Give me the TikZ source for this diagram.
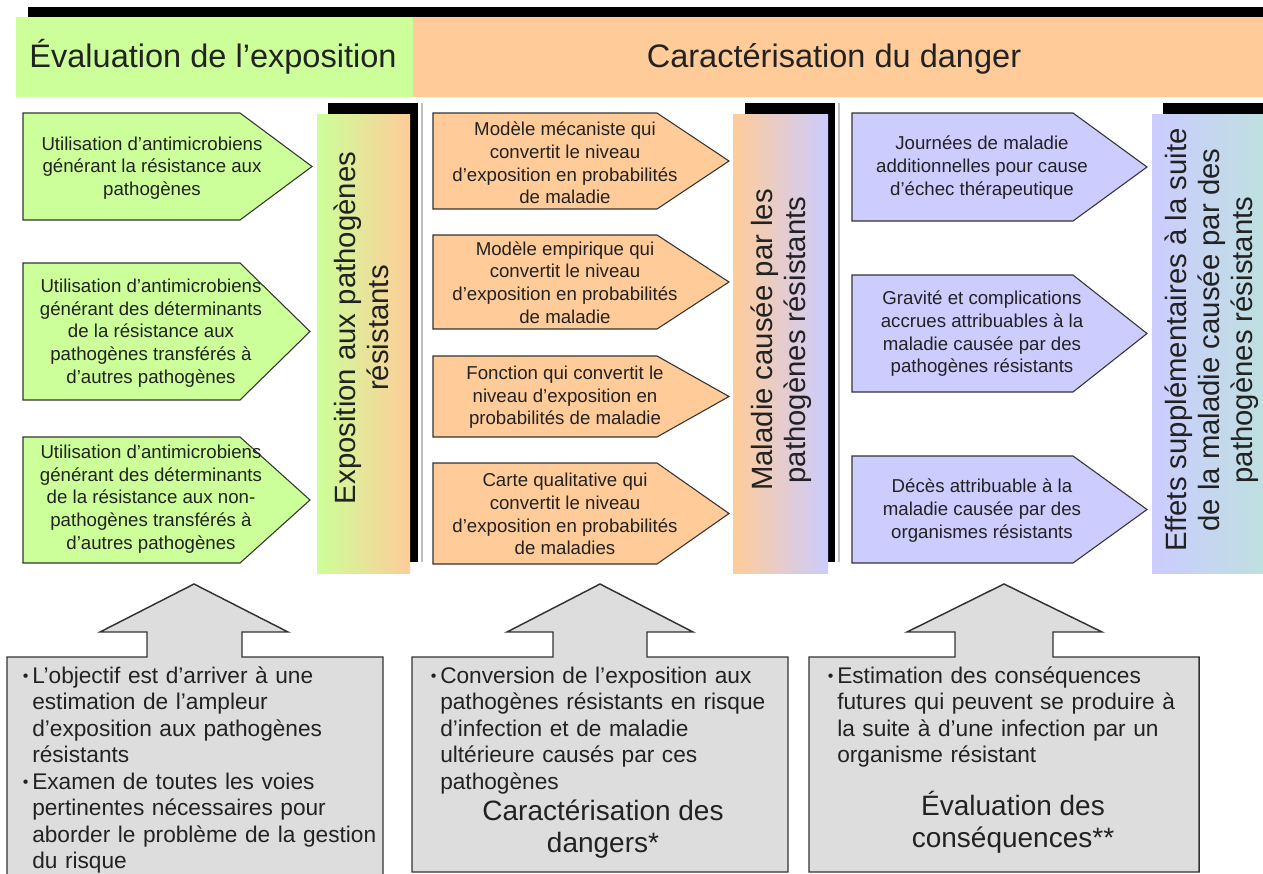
\documentclass[tikz,border=0pt]{standalone}
\usepackage{fontspec}
\setmainfont{Liberation Sans}
\definecolor{lgreen}{HTML}{CCFF99}
\definecolor{lorange}{HTML}{FFCC99}
\definecolor{llav}{HTML}{CCCCFF}
\definecolor{lteal}{HTML}{BEE0E0}
\definecolor{boxgray}{HTML}{DDDDDD}
\definecolor{txt}{HTML}{222222}
\definecolor{edge}{HTML}{333333}
\newcommand\pentagon[6]{\draw[#1] (#2,#5) -- (#3,#5) -- (#4,{(#5+#6)/2}) -- (#3,#6) -- (#2,#6) -- cycle;}
\newcommand\bul{\makebox[9pt][l]{\hspace*{2pt}\raisebox{1.2pt}{\fontsize{12}{12}\selectfont •}}}
\newcommand\ind{\hspace*{9pt}}
\tikzset{
  pent/.style={draw=edge, line width=0.8pt, line join=miter},
  pgreen/.style={pent, fill=lgreen},
  porange/.style={pent, fill=lorange},
  plav/.style={pent, fill=llav},
  atxt/.style={align=center, font=\fontsize{14}{17}\selectfont, text=txt, inner sep=0pt},
  hdr/.style={font=\fontsize{24.4}{28}\selectfont, text=txt, inner sep=0pt, anchor=base},
  vtxt/.style={align=center, font=\fontsize{22}{24.75}\selectfont, text=txt, inner sep=0pt, rotate=90},
  shadowbar/.style={fill=black},
  gline/.style={draw=black!25, line width=1.5pt},
  block/.style={draw=edge, line width=1.1pt, fill=boxgray, line join=miter},
  btxt/.style={anchor=base west, align=left, text width=320pt, font=\fontsize{17}{19.9}\selectfont, text=txt, inner sep=0pt},
  ttl/.style={align=center, font=\fontsize{21}{24}\selectfont, text=txt, inner sep=0pt, anchor=base}
}
\begin{document}
\begin{tikzpicture}[x=0.75pt, y=-0.75pt]
\useasboundingbox (0,0) rectangle (1263,874);
% top bar and header
\fill[black] (28,7) rectangle (1263,17);
\fill[lgreen] (16,17) rectangle (413,97);
\fill[lorange] (413,17) rectangle (1263,97);
\node[hdr] (h1) at (213,68) {Évaluation de l’exposition};
\node[hdr] (h2) at (834,68) {Caractérisation du danger};
% vertical bars
\fill[shadowbar] (328,103) rectangle (418,562);
\draw[gline] (422,103) -- (422,562);
\shade[left color=lgreen, right color=lorange] (317,114) rectangle (410,573);
\node[vtxt] (v1) at (361,328) {Exposition aux pathogènes\\résistants};
\fill[shadowbar] (745,103) rectangle (835,562);
\draw[gline] (839,103) -- (839,562);
\shade[left color=lorange, right color=llav] (733,114) rectangle (828,573);
\node[vtxt] (v2) at (781,340) {Maladie causée par les\\pathogènes résistants};
\fill[shadowbar] (1163,103) rectangle (1270,562);
\shade[left color=llav, right color=lteal] (1152,114) rectangle (1263,573);
\node[vtxt] (v3) at (1212,340) {Effets supplémentaires à la suite\\de la maladie causée par des\\pathogènes résistants};
% left arrows
\pentagon{pgreen}{23}{240}{312}{113}{220}
\node[atxt] (a1) at (152,168) {Utilisation d’antimicrobiens\\générant la résistance aux\\pathogènes};
\pentagon{pgreen}{23}{240}{310}{263}{400}
\node[atxt] (a2) at (151,333) {Utilisation d’antimicrobiens\\générant des déterminants\\de la résistance aux\\pathogènes transférés à\\d’autres pathogènes};
\pentagon{pgreen}{23}{240}{310}{437}{563}
\node[atxt] (a3) at (151,499) {Utilisation d’antimicrobiens\\générant des déterminants\\de la résistance aux non-\\pathogènes transférés à\\d’autres pathogènes};
% middle arrows
\pentagon{porange}{433}{657}{729}{113}{209}
\node[atxt] (m1) at (565,163) {Modèle mécaniste qui\\convertit le niveau\\d’exposition en probabilités\\de maladie};
\pentagon{porange}{433}{657}{729}{235}{329}
\node[atxt] (m2) at (565,282.5) {Modèle empirique qui\\convertit le niveau\\d’exposition en probabilités\\de maladie};
\pentagon{porange}{433}{657}{729}{356}{437}
\node[atxt] (m3) at (565,397.5) {Fonction qui convertit le\\niveau d’exposition en\\probabilités de maladie};
\pentagon{porange}{433}{657}{729}{463}{564}
\node[atxt] (m4) at (565,514) {Carte qualitative qui\\convertit le niveau\\d’exposition en probabilités\\de maladies};
% right arrows
\pentagon{plav}{852}{1073}{1147}{113}{221}
\node[atxt] (r1) at (982,167.5) {Journées de maladie\\additionnelles pour cause\\d’échec thérapeutique};
\pentagon{plav}{852}{1073}{1147}{275}{392}
\node[atxt] (r2) at (982,334) {Gravité et complications\\accrues attribuables à la\\maladie causée par des\\pathogènes résistants};
\pentagon{plav}{852}{1073}{1147}{456}{563}
\node[atxt] (r3) at (982,510.5) {Décès attribuable à la\\maladie causée par des\\organismes résistants};
% bottom block arrows
\draw[block] (7,657) -- (147,657) -- (147,632) -- (100,632) -- (194,584) -- (288,632) -- (242,632) -- (242,657) -- (383,657) -- (383,890) -- (7,890) -- cycle;
\draw[block] (412,657) -- (553,657) -- (553,632) -- (507,632) -- (600,584) -- (693,632) -- (647,632) -- (647,657) -- (788,657) -- (788,872) -- (412,872) -- cycle;
\draw[block] (809,657) -- (955,657) -- (955,632) -- (907,632) -- (1004,584) -- (1102,632) -- (1053,632) -- (1053,657) -- (1199,657) -- (1199,872) -- (809,872) -- cycle;
\node[btxt] (b1) at (20,683) {\bul L’objectif est d’arriver à une\\\ind estimation de l’ampleur\\\ind d’exposition aux pathogènes\\\ind résistants\\\bul Examen de toutes les voies\\\ind pertinentes nécessaires pour\\\ind aborder le problème de la gestion\\\ind du risque};
\node[btxt] (b2) at (428,683) {\bul Conversion de l’exposition aux\\\ind pathogènes résistants en risque\\\ind d’infection et de maladie\\\ind ultérieure causés par ces\\\ind pathogènes};
\node[ttl] (t2) at (603,852) {Caractérisation des\\dangers*};
\node[btxt] (b3) at (825,683) {\bul Estimation des conséquences\\\ind futures qui peuvent se produire à\\\ind la suite à d’une infection par un\\\ind organisme résistant};
\node[ttl] (t3) at (1013,847) {Évaluation des\\conséquences**};
\end{tikzpicture}
\end{document}
